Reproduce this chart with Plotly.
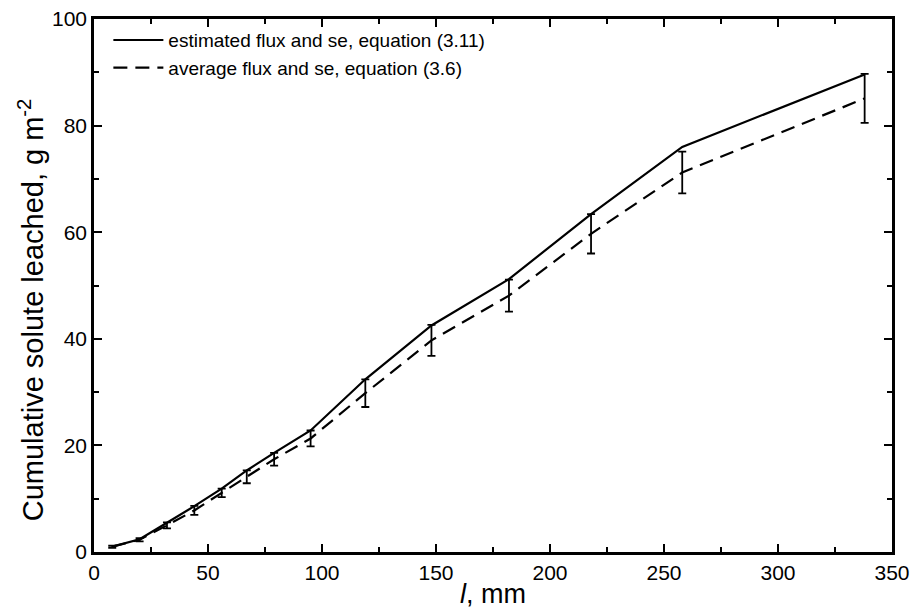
import plotly.graph_objects as go

drainage_mm = [8, 20, 32, 44, 56, 67, 79, 95, 119, 148, 182, 218, 258, 338]
estimated = [1.0, 2.4, 5.5, 8.6, 11.9, 15.3, 18.6, 22.8, 32.4, 42.5, 51.2, 63.4, 76.0, 89.6]
average = [1.0, 2.3, 5.0, 7.8, 11.1, 14.1, 17.4, 21.3, 29.8, 39.7, 48.1, 59.7, 71.2, 85.1]
average_se = [0.2, 0.3, 0.55, 0.85, 0.8, 1.2, 1.2, 1.5, 2.6, 2.9, 3.0, 3.7, 3.9, 4.6]

x_ticks = [0, 50, 100, 150, 200, 250, 300, 350]
y_ticks = [0, 20, 40, 60, 80, 100]

font_family = "Liberation Sans, Arial, sans-serif"

fig = go.Figure()
fig.add_trace(go.Scatter(
    x=drainage_mm, y=estimated, mode="lines",
    name="estimated flux and se, equation (3.11)",
    line=dict(color="black", width=2.2),
))
fig.add_trace(go.Scatter(
    x=drainage_mm, y=average, mode="lines",
    name="average flux and se, equation (3.6)",
    line=dict(color="black", width=2.2, dash="14px,8px"),
    error_y=dict(type="data", array=average_se, visible=True,
                 color="black", thickness=1.8, width=4),
))

axis_common = dict(
    showline=True, linecolor="black", linewidth=2.5, mirror="ticks",
    ticks="inside", ticklen=8, tickwidth=1.5, tickcolor="black",
    showgrid=False, zeroline=False, automargin=False,
    tickfont=dict(family=font_family, size=21, color="black"),
)

fig.update_xaxes(
    range=[0, 350], tickvals=x_ticks,
    minor=dict(ticks="inside", dtick=25, ticklen=5, tickwidth=1.5, tickcolor="black"),
    title=dict(text="<i>l</i>, mm", font=dict(family=font_family, size=27, color="black"), standoff=2),
    **axis_common,
)
fig.update_yaxes(
    range=[0, 100], tickvals=y_ticks,
    minor=dict(ticks="inside", dtick=10, ticklen=5, tickwidth=1.5, tickcolor="black"),
    **axis_common,
)

fig.add_annotation(
    text="Cumulative solute leached, g m<sup>-2</sup>",
    xref="paper", yref="paper", x=-0.078, y=0.455,
    xanchor="center", yanchor="middle", textangle=-90, showarrow=False,
    font=dict(family=font_family, size=29, color="black"),
)

fig.update_layout(
    width=912, height=613,
    margin=dict(l=94, r=20, t=19, b=61),
    plot_bgcolor="white", paper_bgcolor="white",
    showlegend=True,
    legend=dict(x=0.018, y=0.996, xanchor="left", yanchor="top",
                bgcolor="rgba(0,0,0,0)",
                font=dict(family=font_family, size=19, color="black"),
                tracegroupgap=0, itemwidth=50),
)

fig.write_html("out.html")
